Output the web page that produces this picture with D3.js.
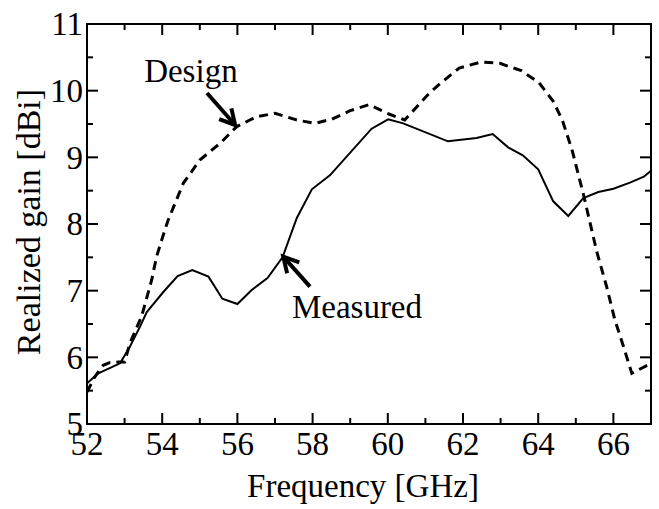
<!DOCTYPE html>
<html>
<head>
<meta charset="utf-8">
<script src="https://cdn.jsdelivr.net/npm/d3@7"></script>
<style>
  body { margin: 0; background: #fff; }
</style>
</head>
<body>
<svg id="chart" width="659" height="509"></svg>
<script>
// frequency [GHz] / realized gain [dBi]
var designFreq = [52.0, 52.2, 52.43, 52.6, 52.83, 53.0, 53.14, 53.45, 53.72, 53.85, 54.07, 54.16,
    54.56, 55.0, 55.54, 55.98, 56.51, 57.0, 57.58, 58.06, 58.5, 59.0, 59.5, 60.03, 60.45,
    61.1, 61.4, 61.9, 62.48, 62.98, 63.55, 64.02, 64.4, 64.64, 64.9, 65.2, 65.56, 65.82,
    66.04, 66.27, 66.49, 67.0];
var designGain = [5.48, 5.7, 5.88, 5.92, 5.93, 5.93, 6.21, 6.61, 7.16, 7.51, 7.91, 8.06,
    8.61, 8.96, 9.21, 9.46, 9.61, 9.66, 9.56, 9.51, 9.57, 9.7, 9.79, 9.65, 9.56,
    9.96, 10.11, 10.34, 10.43, 10.41, 10.30, 10.12, 9.84, 9.56, 9.11, 8.45, 7.58, 7.06,
    6.56, 6.16, 5.76, 5.91];

var measuredFreq = [52.0, 52.3, 52.88, 53.14, 53.41, 53.59, 54.03, 54.41, 54.8, 55.23, 55.6,
    56.0, 56.38, 56.8, 57.2, 57.58, 57.98, 58.46, 59.57, 60.01, 60.41, 61.6, 62.36,
    62.79, 63.2, 63.59, 64.0, 64.4, 64.8, 65.2, 65.6, 66.0, 66.44, 66.81, 67.0];
var measuredGain = [5.61, 5.76, 5.91, 6.16, 6.46, 6.68, 6.98, 7.22, 7.31, 7.21, 6.88,
    6.80, 7.01, 7.19, 7.5, 8.09, 8.52, 8.73, 9.43, 9.57, 9.51, 9.24, 9.29,
    9.35, 9.15, 9.03, 8.82, 8.34, 8.12, 8.39, 8.48, 8.53, 8.62, 8.71, 8.80];

var xTicks = [52, 54, 56, 58, 60, 62, 64, 66];
var yTicks = [5, 6, 7, 8, 9, 10, 11];

var FONT = "'Liberation Serif', 'Times New Roman', 'DejaVu Serif', serif";

var svg = d3.select("#chart");
var pLeft = 87, pRight = 651, pTop = 24, pBottom = 424;

var x = d3.scaleLinear().domain([52, 67]).range([pLeft, pRight]);
var y = d3.scaleLinear().domain([5, 11]).range([pBottom, pTop]);

var g = svg.append("g");

// minor + major ticks on all four sides (inward)
var xMinor = d3.range(52, 67.01, 1);
var yMinor = d3.range(5, 11.01, 0.5);

function isMajorX(v) { return xTicks.indexOf(v) >= 0; }
function isMajorY(v) { return Math.abs(v - Math.round(v)) < 1e-6; }

g.selectAll(".xtb").data(xMinor).enter().append("line")
    .attr("x1", function(d){ return x(d); }).attr("x2", function(d){ return x(d); })
    .attr("y1", pBottom).attr("y2", function(d){ return pBottom - (isMajorX(d) ? 11 : 6); })
    .attr("stroke", "#000").attr("stroke-width", 2);
g.selectAll(".xtt").data(xMinor).enter().append("line")
    .attr("x1", function(d){ return x(d); }).attr("x2", function(d){ return x(d); })
    .attr("y1", pTop).attr("y2", function(d){ return pTop + (isMajorX(d) ? 11 : 6); })
    .attr("stroke", "#000").attr("stroke-width", 2);
g.selectAll(".ytl").data(yMinor).enter().append("line")
    .attr("y1", function(d){ return y(d); }).attr("y2", function(d){ return y(d); })
    .attr("x1", pLeft).attr("x2", function(d){ return pLeft + (isMajorY(d) ? 11 : 6); })
    .attr("stroke", "#000").attr("stroke-width", 2);
g.selectAll(".ytr").data(yMinor).enter().append("line")
    .attr("y1", function(d){ return y(d); }).attr("y2", function(d){ return y(d); })
    .attr("x1", pRight).attr("x2", function(d){ return pRight - (isMajorY(d) ? 11 : 6); })
    .attr("stroke", "#000").attr("stroke-width", 2);

// frame
g.append("rect")
    .attr("x", pLeft).attr("y", pTop)
    .attr("width", pRight - pLeft).attr("height", pBottom - pTop)
    .attr("fill", "none").attr("stroke", "#000").attr("stroke-width", 2);

// tick labels
g.selectAll(".xl").data(xTicks).enter().append("text")
    .attr("x", function(d){ return x(d); }).attr("y", 455)
    .attr("text-anchor", "middle")
    .style("font-family", FONT).style("font-size", "33px")
    .text(function(d){ return d; });
g.selectAll(".yl").data(yTicks).enter().append("text")
    .attr("x", 83).attr("y", function(d){ return y(d); })
    .attr("dy", "0.34em")
    .attr("text-anchor", "end")
    .style("font-family", FONT).style("font-size", "33px")
    .text(function(d){ return d; });

// axis titles
svg.append("text")
    .attr("x", (pLeft + pRight) / 2 - 6).attr("y", 497)
    .attr("text-anchor", "middle")
    .style("font-family", FONT).style("font-size", "33px")
    .text("Frequency [GHz]");
svg.append("text")
    .attr("transform", "translate(40,222) rotate(-90)")
    .attr("text-anchor", "middle")
    .style("font-family", FONT).style("font-size", "34px")
    .text("Realized gain [dBi]");

// curves
var line = d3.line()
    .x(function(d){ return x(d[0]); })
    .y(function(d){ return y(d[1]); });

svg.append("clipPath").attr("id", "clip")
    .append("rect").attr("x", pLeft).attr("y", pTop)
    .attr("width", pRight - pLeft).attr("height", pBottom - pTop);

svg.append("path")
    .datum(d3.zip(designFreq, designGain))
    .attr("clip-path", "url(#clip)")
    .attr("d", line)
    .attr("fill", "none").attr("stroke", "#000")
    .attr("stroke-width", 3).attr("stroke-dasharray", "9,6");

svg.append("path")
    .datum(d3.zip(measuredFreq, measuredGain))
    .attr("clip-path", "url(#clip)")
    .attr("d", line)
    .attr("fill", "none").attr("stroke", "#000")
    .attr("stroke-width", 2);

// annotations
function arrow(f0, v0, f1, v1) {
    var x0 = x(f0), y0 = y(v0), x1 = x(f1), y1 = y(v1);
    var a = Math.atan2(y1 - y0, x1 - x0), len = 17, spread = 0.5;
    svg.append("line")
        .attr("x1", x0).attr("y1", y0).attr("x2", x1 - 2 * Math.cos(a)).attr("y2", y1 - 2 * Math.sin(a))
        .attr("stroke", "#000").attr("stroke-width", 4);
    svg.append("path")
        .attr("d", "M" + (x1 - len * Math.cos(a - spread)) + "," + (y1 - len * Math.sin(a - spread)) +
            "L" + x1 + "," + y1 +
            "L" + (x1 - len * Math.cos(a + spread)) + "," + (y1 - len * Math.sin(a + spread)))
        .attr("fill", "none").attr("stroke", "#000").attr("stroke-width", 4)
        .attr("stroke-linejoin", "miter");
}

svg.append("text").attr("x", x(53.52)).attr("y", y(10.13))
    .style("font-family", FONT).style("font-size", "33px").text("Design");
arrow(55.19, 9.965, 55.94, 9.485);

svg.append("text").attr("x", x(57.45)).attr("y", 318)
    .style("font-family", FONT).style("font-size", "33px").text("Measured");
arrow(57.93, 7.06, 57.22, 7.51);
</script>
</body>
</html>
